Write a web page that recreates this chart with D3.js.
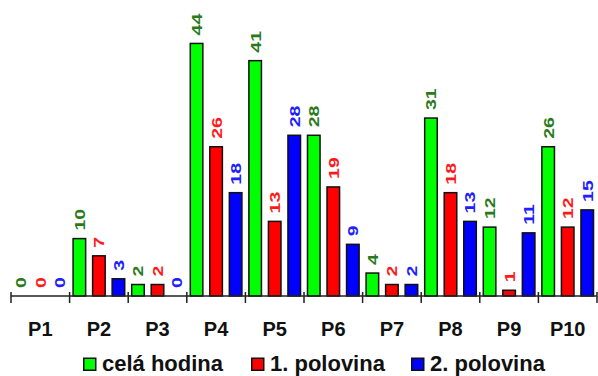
<!DOCTYPE html>
<html><head><meta charset="utf-8">
<script src="https://cdn.jsdelivr.net/npm/d3@7"></script>
<style>html,body{margin:0;padding:0;background:#fff;}svg{display:block;}</style>
</head><body>
<svg id="chart" width="598" height="376"></svg>
<script>
const categories = ["P1","P2","P3","P4","P5","P6","P7","P8","P9","P10"];
const seriesNames = ["celá hodina","1. polovina","2. polovina"];
const celaHodina = [0,10,2,44,41,28,4,31,12,26];
const polovina1 = [0,7,2,26,13,19,2,18,1,12];
const polovina2 = [0,3,0,18,28,9,2,13,11,15];
const barColors = ["#00ff00","#ff0000","#0000ff"];
const labelColors = ["#2a7a1a","#ff1a1a","#2020ff"];

const seriesValues = [celaHodina, polovina1, polovina2];
const svg = d3.select("#chart");
const font = "'Liberation Sans', Arial, sans-serif";

const x0 = d3.scaleBand().domain(categories).range([11, 597]).padding(0);
const x1 = d3.scaleBand().domain(seriesNames).range([0, x0.bandwidth()]).paddingInner(0.28).paddingOuter(0.14);
const y = d3.scaleLinear().domain([0, 50]).range([296, 9]);

const g = svg.append("g");
categories.forEach((c, ci) => {
  seriesNames.forEach((s, si) => {
    const v = seriesValues[si][ci];
    const bx = x0(c) + x1(s);
    const bw = x1.bandwidth();
    if (v > 0) {
      g.append("rect")
        .attr("x", bx + 0.75).attr("y", y(v))
        .attr("width", bw - 1.5).attr("height", y(0) - y(v))
        .attr("fill", barColors[si]).attr("stroke", "#111").attr("stroke-width", 1.5);
    }
    const cx = bx + bw / 2;
    const ty = y(v) - 8;
    g.append("text")
      .attr("transform", `translate(${cx},${ty}) rotate(-90) scale(1.3,1)`)
      .attr("dy", "0.36em")
      .attr("text-anchor", "start")
      .attr("font-family", font).attr("font-weight", "bold").attr("font-size", 15)
      .attr("fill", labelColors[si])
      .text(v);
  });
});

// axis
const axis = svg.append("g");
axis.append("line").attr("x1", 11).attr("x2", 597).attr("y1", 296).attr("y2", 296)
  .attr("stroke", "#222").attr("stroke-width", 1.5);
const tickPos = categories.map(c => x0(c)).concat([x0(categories[categories.length-1]) + x0.bandwidth()]);
tickPos.forEach(t => {
  axis.append("line").attr("x1", t).attr("x2", t).attr("y1", 292).attr("y2", 303)
    .attr("stroke", "#222").attr("stroke-width", 1.5);
});
categories.forEach(c => {
  axis.append("text").attr("x", x0(c) + x0.bandwidth()/2).attr("y", 336)
    .attr("text-anchor", "middle")
    .attr("font-family", font).attr("font-weight", "bold").attr("font-size", 20)
    .attr("fill", "#111").text(c);
});

// legend
const legendX = [83, 251, 411];
const legend = svg.append("g");
seriesNames.forEach((s, i) => {
  legend.append("rect").attr("x", legendX[i] + 0.75).attr("y", 358.25).attr("width", 12).attr("height", 12)
    .attr("fill", barColors[i]).attr("stroke", "#111").attr("stroke-width", 1.5);
  legend.append("text").attr("x", legendX[i] + 19).attr("y", 371)
    .attr("font-family", font).attr("font-weight", "bold").attr("font-size", 22)
    .attr("fill", "#111").text(s);
});
</script>
</body></html>
